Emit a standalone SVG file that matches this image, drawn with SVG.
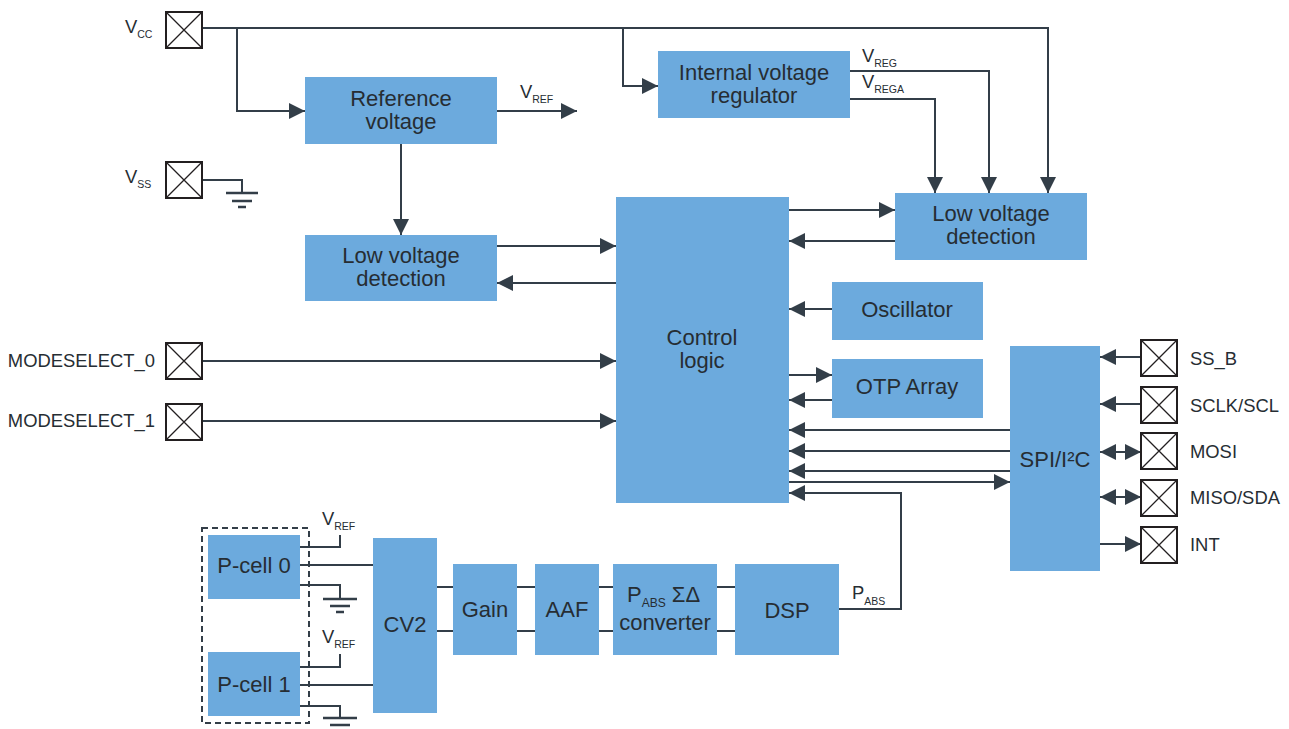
<svg xmlns="http://www.w3.org/2000/svg" width="1289" height="729" viewBox="0 0 1289 729">
<defs>
<style>
.box{fill:#6caadd}
.t{font-family:"Liberation Sans",Arial,sans-serif;font-size:22px;fill:#262d33;text-anchor:middle}
.l{font-family:"Liberation Sans",Arial,sans-serif;font-size:18.4px;fill:#262d33}
.s{font-size:10.5px}
.w{fill:none;stroke:#333e48;stroke-width:2}
.a{fill:none;stroke:#333e48;stroke-width:2;marker-end:url(#ah)}
.b{fill:none;stroke:#333e48;stroke-width:2;marker-start:url(#as);marker-end:url(#ah)}
.pad{fill:#fff;stroke:#231f20;stroke-width:2}
.px{stroke:#231f20;stroke-width:1.3}
.g{stroke:#333e48;stroke-width:2.5}
</style>
<marker id="ah" markerUnits="userSpaceOnUse" markerWidth="16" markerHeight="16" refX="16" refY="8" orient="auto"><path d="M0,0 L16,8 L0,16 z" fill="#333e48"/></marker>
<marker id="as" markerUnits="userSpaceOnUse" markerWidth="16" markerHeight="16" refX="0" refY="8" orient="auto"><path d="M16,0 L0,8 L16,16 z" fill="#333e48"/></marker>
<g id="padsym"><rect class="pad" x="0" y="0" width="36" height="36"/><path class="px" d="M0,0 L36,36 M36,0 L0,36"/></g>
</defs>

<g id="connectors">
<path class="a" d="M202,28 H1048 V193"/>
<path class="a" d="M237,28 V111 H305"/>
<path class="a" d="M623,28 V86 H658"/>
<path class="a" d="M497,111 H577"/>
<path class="a" d="M401,144 V235"/>
<path class="w" d="M202,180 H242 V193"/>
<path class="g" d="M226,193 H258 M232,201 H252 M238,207 H246"/>
<path class="a" d="M850,71 H989 V193"/>
<path class="a" d="M850,99 H935 V193"/>
<path class="a" d="M789,210 H895"/>
<path class="a" d="M895,241 H789"/>
<path class="a" d="M497,246 H616"/>
<path class="a" d="M616,283 H497"/>
<path class="a" d="M202,361 H616"/>
<path class="a" d="M202,421 H616"/>
<path class="a" d="M832,309 H789"/>
<path class="a" d="M789,375 H832"/>
<path class="a" d="M832,400 H789"/>
<path class="a" d="M1010,430 H789"/>
<path class="a" d="M1010,451 H789"/>
<path class="a" d="M1010,471 H789"/>
<path class="a" d="M789,482 H1010"/>
<path class="a" d="M839,609 H901 V493 H789"/>
<path class="a" d="M1141,357 H1100"/>
<path class="a" d="M1141,404 H1100"/>
<path class="b" d="M1100,452 H1141"/>
<path class="b" d="M1100,497 H1141"/>
<path class="a" d="M1100,544 H1141"/>
<path class="w" d="M300,547 H340 V535"/>
<path class="w" d="M300,565 H373"/>
<path class="w" d="M300,585 H340 V599"/>
<path class="g" d="M323,599 H357 M330,606 H350 M336,612 H344"/>
<path class="w" d="M300,667 H340 V654"/>
<path class="w" d="M300,685 H373"/>
<path class="w" d="M300,706 H340 V718"/>
<path class="g" d="M323,718 H357 M330,725 H350 M336,731 H344"/>
<path class="w" d="M437,587 H453 M437,631 H453"/>
<path class="w" d="M517,587 H535 M517,631 H535"/>
<path class="w" d="M599,587 H613 M599,631 H613"/>
<path class="w" d="M717,587 H735 M717,631 H735"/>
</g>

<g id="pad-vcc"><use href="#padsym" x="166" y="12"/><text class="l" x="125" y="33">V<tspan class="s" dy="5">CC</tspan></text></g>
<g id="pad-vss"><use href="#padsym" x="166" y="162"/><text class="l" x="125" y="183">V<tspan class="s" dy="5">SS</tspan></text></g>
<g id="pad-ms0"><use href="#padsym" x="166" y="343"/><text class="l" x="155" y="367" text-anchor="end">MODESELECT_0</text></g>
<g id="pad-ms1"><use href="#padsym" x="166" y="404"/><text class="l" x="155" y="427" text-anchor="end">MODESELECT_1</text></g>
<g id="pad-ssb"><use href="#padsym" x="1141" y="340"/><text class="l" x="1190" y="365">SS_B</text></g>
<g id="pad-sclk"><use href="#padsym" x="1141" y="387"/><text class="l" x="1190" y="412">SCLK/SCL</text></g>
<g id="pad-mosi"><use href="#padsym" x="1141" y="433"/><text class="l" x="1190" y="458">MOSI</text></g>
<g id="pad-miso"><use href="#padsym" x="1141" y="480"/><text class="l" x="1190" y="504">MISO/SDA</text></g>
<g id="pad-int"><use href="#padsym" x="1141" y="527"/><text class="l" x="1190" y="551">INT</text></g>

<g id="ref-voltage"><rect class="box" x="305" y="77" width="192" height="67"/><text class="t" x="401" y="106">Reference</text><text class="t" x="401" y="129">voltage</text></g>
<text class="l" x="520" y="98">V<tspan class="s" dy="5">REF</tspan></text>

<g id="int-reg"><rect class="box" x="658" y="51" width="192" height="67"/><text class="t" x="754" y="80">Internal voltage</text><text class="t" x="754" y="103">regulator</text></g>
<text class="l" x="862" y="62">V<tspan class="s" dy="5">REG</tspan></text>
<text class="l" x="862" y="88">V<tspan class="s" dy="5">REGA</tspan></text>

<g id="lvd-right"><rect class="box" x="895" y="193" width="192" height="67"/><text class="t" x="991" y="221">Low voltage</text><text class="t" x="991" y="244">detection</text></g>
<g id="lvd-left"><rect class="box" x="305" y="235" width="192" height="66"/><text class="t" x="401" y="263">Low voltage</text><text class="t" x="401" y="286">detection</text></g>
<g id="control"><rect class="box" x="616" y="197" width="173" height="306"/><text class="t" x="702" y="345">Control</text><text class="t" x="702" y="368">logic</text></g>
<g id="osc"><rect class="box" x="832" y="282" width="151" height="58"/><text class="t" x="907" y="317">Oscillator</text></g>
<g id="otp"><rect class="box" x="832" y="359" width="151" height="59"/><text class="t" x="907" y="394">OTP Array</text></g>
<g id="spi"><rect class="box" x="1010" y="346" width="90" height="225"/><text class="t" x="1055" y="467">SPI/I²C</text></g>

<g id="pcell-group"><rect x="202" y="528" width="107" height="195" fill="none" stroke="#333e48" stroke-width="2" stroke-dasharray="6,4"/></g>
<g id="pcell0"><rect class="box" x="208" y="535" width="92" height="64"/><text class="t" x="254" y="573">P-cell 0</text></g>
<g id="pcell1"><rect class="box" x="208" y="652" width="92" height="64"/><text class="t" x="254" y="692">P-cell 1</text></g>
<text class="l" x="322" y="525">V<tspan class="s" dy="5">REF</tspan></text>
<text class="l" x="322" y="643">V<tspan class="s" dy="5">REF</tspan></text>

<g id="cv2"><rect class="box" x="373" y="538" width="64" height="175"/><text class="t" x="405" y="632">CV2</text></g>
<g id="gain"><rect class="box" x="453" y="564" width="64" height="91"/><text class="t" x="485" y="617">Gain</text></g>
<g id="aaf"><rect class="box" x="535" y="564" width="64" height="91"/><text class="t" x="567" y="617">AAF</text></g>
<g id="adc"><rect class="box" x="613" y="564" width="104" height="91"/><text class="t" x="627" y="602" style="text-anchor:start">P<tspan font-size="12" dy="5">ABS</tspan><tspan dy="-5"> ΣΔ</tspan></text><text class="t" x="665" y="630">converter</text></g>
<g id="dsp"><rect class="box" x="735" y="564" width="104" height="91"/><text class="t" x="787" y="618">DSP</text></g>
<text class="l" x="852" y="599">P<tspan class="s" dy="6">ABS</tspan></text>
</svg>
